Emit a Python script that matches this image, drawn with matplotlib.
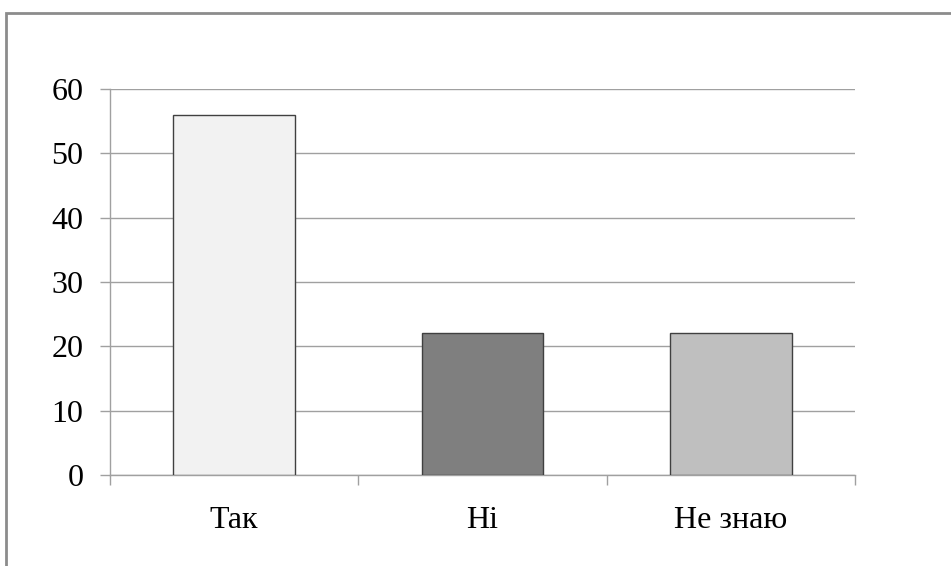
import matplotlib.pyplot as plt
import matplotlib.patches as mpatches

categories = ["Так", "Ні", "Не знаю"]
values = [56, 22, 22]
bar_colors = ["#f2f2f2", "#7f7f7f", "#bfbfbf"]
y_ticks = [0, 10, 20, 30, 40, 50, 60]

plt.rcParams['font.family'] = ['Liberation Serif', 'DejaVu Serif']

fig = plt.figure(figsize=(9.51, 5.66), dpi=100)
fig.patch.set_facecolor("white")

# outer frame of the chart area (cropped at right and bottom)
frame = mpatches.Rectangle((6 / 951, -0.1), 1.2, 1 - 13 / 566 + 0.1,
                           transform=fig.transFigure, fill=False,
                           edgecolor="#8c8c8c", linewidth=2)
fig.add_artist(frame)

ax = fig.add_axes([110 / 951, 1 - 475 / 566, (855 - 110) / 951, (475 - 89) / 566])

x = list(range(len(categories)))
ax.bar(x, values, width=0.49, color=bar_colors, edgecolor="#404040",
       linewidth=1, zorder=3)

ax.set_xlim(-0.5, 2.5)
ax.set_ylim(0, 60)
ax.set_yticks(y_ticks)
ax.set_xticks(x)
ax.set_xticklabels(categories, fontsize=23)
ax.set_xticks([-0.5, 0.5, 1.5, 2.5], minor=True)
ax.tick_params(axis="x", which="major", length=0, pad=22)
ax.tick_params(axis="x", which="minor", length=7, width=1, color="#a0a0a0",
               direction="out")
ax.tick_params(axis="y", length=7, width=1, color="#a0a0a0", pad=12,
               labelsize=23)

ax.grid(axis="y", color="#a0a0a0", linewidth=1, zorder=0)
for s in ["top", "right"]:
    ax.spines[s].set_visible(False)
for s in ["left", "bottom"]:
    ax.spines[s].set_color("#a0a0a0")
    ax.spines[s].set_linewidth(1)

fig.savefig("out.png", dpi=100)
